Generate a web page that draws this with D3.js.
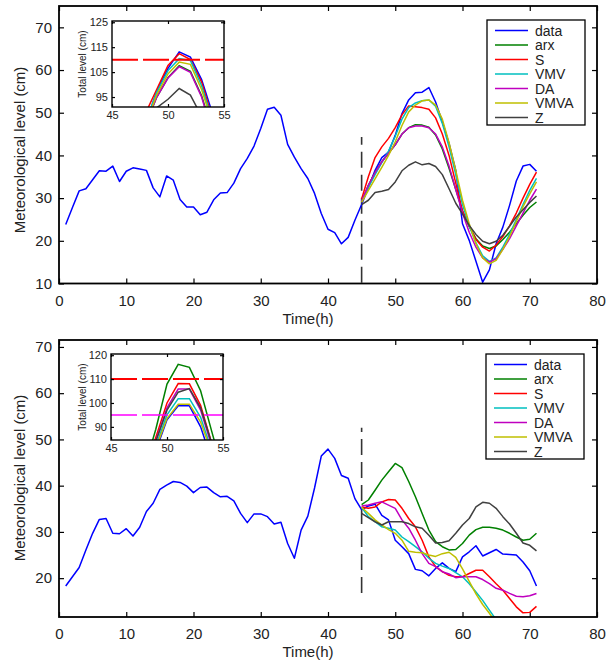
<!DOCTYPE html>
<html lang="en">
<head>
<meta charset="utf-8">
<title>Meteorological level forecasts</title>
<script src="https://cdn.jsdelivr.net/npm/d3@7"></script>
<style>
    body { margin: 0; background: #fff; }
    svg text { font-family: "Liberation Sans", Arial, Helvetica, sans-serif; fill: #222; }
</style>
</head>
<body>
<svg id="chart" width="607" height="662"></svg>
<script>
// ---- data ----
const seriesNames = ["data", "arx", "S", "VMV", "DA", "VMVA", "Z"];
const seriesColors = ["#0000ff", "#008000", "#ff0000", "#00bfbf", "#bf00bf", "#bfbf00", "#404040"];

const hoursAll = d3.range(1, 72);        // 1..71 h
const hoursForecast = d3.range(45, 72);  // 45..71 h
const xTicks = [0, 10, 20, 30, 40, 50, 60, 70, 80];

// top panel
const topData = [23.8, 27.8, 31.7, 32.2, 34.3, 36.4, 36.3, 37.5, 33.9, 36.3, 37.1, 36.8, 36.5, 32.4, 30.3, 35.2, 34.2, 29.7, 27.9, 27.9,
    26.1, 26.7, 29.6, 31.2, 31.3, 33.5, 36.9, 39.3, 42.2, 46.3, 50.8, 51.3, 49.4, 42.6, 39.6, 36.9, 34.6, 31.1, 26.4, 22.7,
    21.9, 19.3, 20.8, 24.8, 28.5, 32.5, 36.5, 39.5, 40.8, 44.7, 49.8, 53.0, 54.7, 54.8, 55.9, 52.5, 47.9, 42.8, 36.5, 24.0,
    20.1, 15.2, 10.3, 13.2, 19.3, 23.2, 28.3, 34.0, 37.5, 37.9, 36.3];
const topArx  = [29.2, 33.0, 36.0, 38.5, 40.5, 42.5, 45.0, 46.5, 47.2, 47.1, 46.6, 44.8, 41.5, 37.0, 32.0, 27.0, 23.3, 20.5, 18.8, 18.2, 18.8, 20.3, 22.0, 24.0, 26.0, 27.8, 29.1];
const topS    = [29.8, 35.0, 39.5, 42.0, 44.0, 46.5, 49.5, 51.6, 51.4, 51.2, 50.8, 48.8, 45.0, 40.0, 33.5, 27.0, 23.5, 20.3, 18.5, 17.6, 19.0, 21.0, 23.5, 26.5, 30.0, 33.2, 36.1];
const topVMV  = [29.3, 32.5, 35.5, 38.3, 41.0, 44.5, 48.5, 51.2, 52.3, 52.8, 53.0, 51.5, 47.5, 42.0, 35.5, 28.5, 23.5, 19.5, 16.5, 15.2, 16.0, 18.5, 21.5, 25.0, 28.5, 31.8, 34.6];
const topDA   = [29.2, 33.0, 36.0, 38.5, 40.5, 42.5, 45.0, 46.5, 46.9, 46.9, 46.5, 45.0, 42.0, 37.5, 32.0, 26.5, 22.0, 18.5, 16.0, 15.0, 15.8, 18.0, 20.5, 23.5, 26.5, 29.5, 32.1];
const topVMVA = [29.0, 31.8, 34.5, 37.2, 40.0, 43.2, 47.0, 50.2, 51.8, 52.8, 53.0, 51.8, 48.5, 43.0, 36.5, 29.5, 24.0, 19.3, 16.0, 14.6, 15.4, 18.0, 21.0, 24.5, 28.0, 31.0, 33.8];
const topZ    = [28.5, 29.5, 31.3, 31.6, 32.0, 33.8, 36.4, 37.7, 38.5, 37.8, 38.1, 37.4, 35.5, 32.2, 28.8, 26.3, 23.6, 21.5, 19.9, 19.3, 19.9, 21.3, 23.4, 25.6, 27.3, 29.0, 30.5];
const topYTicks = [10, 20, 30, 40, 50, 60, 70];
const topDivider = [10.2, 44.3];

// top inset (total level around the peak)
const topInsetHours = [48, 49, 50, 51, 52, 53, 54];
const topInset = [
    [84, 97.5, 106.5, 113.1, 111, 102, 88],     // data
    [84, 95, 102.8, 107.6, 105.3, 95.5, 81],     // arx
    [88.6, 98.1, 107.7, 112.4, 110, 101, 86],    // S
    [85, 97, 105.6, 110.4, 109.7, 99.5, 85],     // VMV
    [84, 95, 102.6, 107.2, 104.9, 95, 80],       // DA
    [84, 96, 104.3, 109, 108.1, 98, 84],         // VMVA
    [80, 90.7, 94.1, 98.4, 95.8, 87.2, 75]       // Z
];
const topInsetYTicks = [95, 105, 115, 125];
const topInsetLevels = [110];

// bottom panel
const botData = [18.3, 20.3, 22.3, 26.1, 29.7, 32.7, 32.9, 29.7, 29.6, 30.7, 29.1, 31.0, 34.4, 36.2, 39.2, 40.1, 40.9, 40.7, 39.9, 38.5,
    39.6, 39.7, 38.5, 37.6, 37.7, 36.7, 34.0, 32.0, 33.9, 33.9, 33.3, 31.7, 32.1, 27.5, 24.3, 30.4, 33.4, 39.5, 46.4, 47.9,
    45.9, 42.2, 41.6, 37.2, 34.8, 35.6, 36.0, 33.6, 32.6, 28.2, 26.8, 25.3, 21.9, 21.6, 20.5, 22.1, 23.3, 22.1, 21.4, 24.6,
    25.7, 27.0, 24.8, 25.5, 26.2, 25.2, 25.1, 25.0, 23.5, 21.6, 18.3];
const botArx  = [35.9, 36.9, 39.0, 41.2, 43.0, 44.8, 43.9, 40.9, 37.6, 34.0, 30.4, 27.9, 26.8, 26.1, 26.2, 27.5, 29.3, 30.5, 31.0, 31.0, 30.8, 30.4, 29.7, 28.9, 28.2, 28.4, 29.7];
const botS    = [35.4, 35.1, 35.4, 36.5, 37.0, 36.9, 35.1, 32.9, 31.1, 28.2, 24.6, 22.5, 21.4, 20.6, 20.3, 20.3, 21.0, 21.7, 21.7, 20.3, 18.8, 17.4, 15.6, 13.8, 12.5, 12.6, 13.9];
const botVMV  = [35.3, 33.3, 32.2, 31.1, 30.8, 30.4, 28.9, 27.9, 26.8, 25.7, 24.3, 23.2, 22.6, 22.1, 21.2, 20.3, 18.8, 17.0, 15.2, 13.1, 11.0];
const botDA   = [35.6, 35.8, 36.2, 36.5, 35.8, 35.1, 32.6, 30.8, 28.2, 25.3, 23.2, 22.5, 21.4, 20.9, 20.1, 20.3, 20.3, 20.3, 19.7, 18.8, 17.8, 17.4, 16.7, 16.1, 16.0, 16.2, 16.7];
const botVMVA = [35.3, 34.0, 32.6, 31.5, 30.5, 29.7, 28.2, 25.8, 25.6, 25.5, 25.0, 24.7, 25.3, 25.6, 24.5, 22.0, 19.3, 16.6, 14.3, 12.4, 10.3];
const botZ    = [34.0, 33.1, 32.2, 31.5, 32.2, 32.2, 32.2, 31.8, 31.1, 30.8, 29.3, 27.6, 27.7, 28.1, 29.7, 31.5, 32.9, 35.4, 36.4, 36.2, 35.1, 33.3, 31.7, 29.7, 27.6, 27.1, 25.9];
const botYTicks = [20, 30, 40, 50, 60, 70];
const botDivider = [16.8, 52.5];

// bottom inset
const botInsetHours = [48, 49, 50, 51, 52, 53, 54, 55];
const botInset = [
    [66, 80, 93, 98.8, 98.8, 90, 76, 62],          // data
    [73, 89, 107.9, 116.2, 114.9, 105.1, 88, 71],  // arx
    [72, 85.5, 100, 108.1, 108, 99, 83, 67],       // S
    [68, 82, 95, 101.8, 101.8, 94, 80, 65],        // VMV
    [70, 84, 98, 105.8, 105.8, 97, 82, 66],        // DA
    [67, 81, 93.5, 99.5, 99.5, 92, 79, 64],        // VMVA
    [70, 84, 97, 104.5, 106, 98, 83, 67]           // Z
];
const botInsetYTicks = [90, 100, 110, 120];
const botInsetLevels = [110, 95];
const levelColors = ["#ff0000", "#ff00ff"];

// ---- drawing ----
let svg = d3.select("#chart");

function pairs(xs, ys) {
    return ys.map((v, i) => [xs[i], v]);
}

function styleAxis(g, size) {
    g.select(".domain").remove();
    g.selectAll("line").attr("stroke", "#000").attr("stroke-width", 1.2);
    g.attr("font-size", size).attr("font-family", null);
    g.selectAll("text").attr("fill", "#222");
}

function drawPanel(cfg) {
    let g = svg.append("g");
    let x = d3.scaleLinear().domain([0, 80]).range([cfg.left, cfg.right]);
    let y = d3.scaleLinear().domain(cfg.yDomain).range([cfg.bottom, cfg.top]);

    g.append("clipPath").attr("id", cfg.id + "clip")
        .append("rect")
        .attr("x", cfg.left).attr("y", cfg.top)
        .attr("width", cfg.right - cfg.left).attr("height", cfg.bottom - cfg.top);

    // axes, ticks pointing inward on all four sides
    g.append("g").attr("transform", "translate(0," + cfg.bottom + ")")
        .call(d3.axisBottom(x).tickValues(xTicks).tickSize(-5).tickPadding(11.5))
        .call(a => styleAxis(a, 15));
    g.append("g").attr("transform", "translate(0," + cfg.top + ")")
        .call(d3.axisTop(x).tickValues(xTicks).tickSize(-5).tickFormat(""))
        .call(a => styleAxis(a, 15));
    g.append("g").attr("transform", "translate(" + cfg.left + ",0)")
        .call(d3.axisLeft(y).tickValues(cfg.yTicks).tickSize(-5).tickPadding(7))
        .call(a => styleAxis(a, 15));
    g.append("g").attr("transform", "translate(" + cfg.right + ",0)")
        .call(d3.axisRight(y).tickValues(cfg.yTicks).tickSize(-5).tickFormat(""))
        .call(a => styleAxis(a, 15));

    let line = d3.line().x(d => x(d[0])).y(d => y(d[1]));
    let plot = g.append("g").attr("clip-path", "url(#" + cfg.id + "clip)");

    // forecast start marker
    plot.append("line")
        .attr("x1", x(45)).attr("x2", x(45))
        .attr("y1", y(cfg.divider[0])).attr("y2", y(cfg.divider[1]))
        .attr("stroke", "#333").attr("stroke-width", 1.6)
        .attr("stroke-dasharray", "16,7");

    cfg.series.forEach((s, i) => {
        plot.append("path")
            .datum(s)
            .attr("d", line)
            .attr("fill", "none")
            .attr("stroke", seriesColors[i])
            .attr("stroke-width", 1.5)
            .attr("stroke-linejoin", "round");
    });

    g.append("rect")
        .attr("x", cfg.left).attr("y", cfg.top)
        .attr("width", cfg.right - cfg.left).attr("height", cfg.bottom - cfg.top)
        .attr("fill", "none").attr("stroke", "#000").attr("stroke-width", 1.8);

    // axis titles
    g.append("text")
        .attr("x", 308).attr("y", cfg.bottom + 40)
        .attr("text-anchor", "middle").attr("font-size", 15)
        .text("Time(h)");
    g.append("text")
        .attr("transform", "translate(25," + cfg.ylabelY + ") rotate(-90)")
        .attr("text-anchor", "middle").attr("font-size", 15)
        .text("Meteorological level (cm)");

    drawInset(g, cfg.inset);
    drawLegend(g, cfg.legend);
}

function drawInset(parent, ins) {
    let g = parent.append("g");
    let x = d3.scaleLinear().domain([45, 55]).range([ins.left, ins.right]);
    let y = d3.scaleLinear().domain(ins.yDomain).range([ins.bottom, ins.top]);

    g.append("rect")
        .attr("x", ins.left).attr("y", ins.top)
        .attr("width", ins.right - ins.left).attr("height", ins.bottom - ins.top)
        .attr("fill", "#fff");

    g.append("clipPath").attr("id", ins.id + "clip")
        .append("rect")
        .attr("x", ins.left).attr("y", ins.top)
        .attr("width", ins.right - ins.left).attr("height", ins.bottom - ins.top);

    let plot = g.append("g").attr("clip-path", "url(#" + ins.id + "clip)");
    let line = d3.line().x(d => x(d[0])).y(d => y(d[1]));

    ins.series.forEach((s, i) => {
        plot.append("path")
            .datum(pairs(ins.hours, s))
            .attr("d", line)
            .attr("fill", "none")
            .attr("stroke", seriesColors[i])
            .attr("stroke-width", 1.5);
    });

    ins.levels.forEach((lv, i) => {
        plot.append("line")
            .attr("x1", ins.left).attr("x2", ins.right)
            .attr("y1", y(lv)).attr("y2", y(lv))
            .attr("stroke", levelColors[i])
            .attr("stroke-width", i == 0 ? 2 : 1.5)
            .attr("stroke-dasharray", "26,5");
    });

    g.append("g").attr("transform", "translate(0," + ins.bottom + ")")
        .call(d3.axisBottom(x).tickValues([45, 50, 55]).tickSize(-3).tickPadding(4))
        .call(a => styleAxis(a, 11));
    g.append("g").attr("transform", "translate(0," + ins.top + ")")
        .call(d3.axisTop(x).tickValues([45, 50, 55]).tickSize(-3).tickFormat(""))
        .call(a => styleAxis(a, 11));
    g.append("g").attr("transform", "translate(" + ins.left + ",0)")
        .call(d3.axisLeft(y).tickValues(ins.yTicks).tickSize(-3).tickPadding(4))
        .call(a => styleAxis(a, 11));
    g.append("g").attr("transform", "translate(" + ins.right + ",0)")
        .call(d3.axisRight(y).tickValues(ins.yTicks).tickSize(-3).tickFormat(""))
        .call(a => styleAxis(a, 11));

    g.append("rect")
        .attr("x", ins.left).attr("y", ins.top)
        .attr("width", ins.right - ins.left).attr("height", ins.bottom - ins.top)
        .attr("fill", "none").attr("stroke", "#000").attr("stroke-width", 1.4);

    g.append("text")
        .attr("transform", "translate(86," + ((ins.top + ins.bottom) / 2) + ") rotate(-90)")
        .attr("text-anchor", "middle").attr("font-size", 10)
        .text("Total level (cm)");
}

function drawLegend(parent, lg) {
    let g = parent.append("g");
    g.append("rect")
        .attr("x", lg.left).attr("y", lg.top)
        .attr("width", 98).attr("height", 105)
        .attr("fill", "#fff").attr("stroke", "#000").attr("stroke-width", 1.3);

    let row = g.selectAll("g.row")
        .data(seriesNames)
        .enter()
        .append("g")
        .attr("transform", (d, i) => "translate(0," + (lg.top + 10.5 + i * 14.5) + ")");

    row.append("line")
        .attr("x1", lg.left + 8).attr("x2", lg.left + 41)
        .attr("stroke", (d, i) => seriesColors[i])
        .attr("stroke-width", 1.5);
    row.append("text")
        .attr("x", lg.left + 48).attr("dy", "0.36em")
        .attr("font-size", 14)
        .text(d => d);
}

drawPanel({
    id: "top",
    left: 59, right: 597, top: 6, bottom: 283.5,
    yDomain: [10, 75], yTicks: topYTicks, ylabelY: 150,
    divider: topDivider,
    series: [pairs(hoursAll, topData), pairs(hoursForecast, topArx), pairs(hoursForecast, topS),
             pairs(hoursForecast, topVMV), pairs(hoursForecast, topDA), pairs(hoursForecast, topVMVA),
             pairs(hoursForecast, topZ)],
    inset: {id: "topInset", left: 112, right: 224, top: 21, bottom: 107,
            yDomain: [91, 125.5], yTicks: topInsetYTicks, hours: topInsetHours,
            series: topInset, levels: topInsetLevels},
    legend: {left: 487, top: 20}
});

drawPanel({
    id: "bot",
    left: 59, right: 597, top: 340, bottom: 617,
    yDomain: [11.6, 71.5], yTicks: botYTicks, ylabelY: 478,
    divider: botDivider,
    series: [pairs(hoursAll, botData), pairs(hoursForecast, botArx), pairs(hoursForecast, botS),
             pairs(hoursForecast, botVMV), pairs(hoursForecast, botDA), pairs(hoursForecast, botVMVA),
             pairs(hoursForecast, botZ)],
    inset: {id: "botInset", left: 111, right: 223, top: 354, bottom: 440,
            yDomain: [84.5, 120.5], yTicks: botInsetYTicks, hours: botInsetHours,
            series: botInset, levels: botInsetLevels},
    legend: {left: 486, top: 354}
});
</script>
</body>
</html>
